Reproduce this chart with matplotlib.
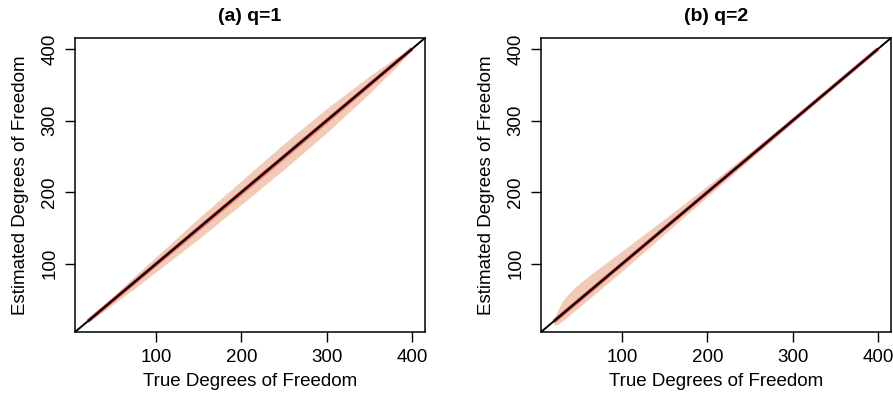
import matplotlib.pyplot as plt
import numpy as np

plt.rcParams['font.family'] = ['Liberation Sans', 'DejaVu Sans']

# true degrees of freedom grid
df_true = [20, 25, 30, 40, 50, 75, 100, 150, 200, 250, 300, 350, 380, 400]

# q=1 : band offsets (estimated - true)
q1_outer_lo = [-1, -2, -3, -5, -6, -9, -11, -15, -17, -18, -17, -12, -7, -1]
q1_outer_hi = [1, 2, 3, 4, 5, 8, 10, 14, 16, 18, 17, 12, 7, 1]
q1_inner_lo = [-2, -2, -2, -2, -2, -3, -3, -4, -4, -4, -4, -3, -2, -1]
q1_inner_hi = [2, 2, 2, 2, 2, 3, 3, 3, 4, 4, 3, 3, 2, 1]
q1_mean = [0, 0, 0, 0, 0, 0, 0, 0, 0, 0, 0, 0, 0, 0]

# q=2 : band offsets (estimated - true)
q2_outer_lo = [-6, -9, -10, -10, -10, -10, -10, -8, -6, -4, -3, -2, -1, 0]
q2_outer_hi = [3, 12, 18, 22, 23, 21, 18, 13, 9, 6, 4, 2, 1, 0]
q2_inner_lo = [-3, -3, -3, -3, -3, -3, -2, -2, -2, -2, -1, -1, -1, 0]
q2_inner_hi = [3, 3, 3, 3, 3, 3, 3, 2, 2, 2, 1, 1, 1, 0]
q2_mean = [0, 0, 0, 0, 0, 0, 0, 0, 0, 0, 0, 0, 0, 0]

titles = ["(a) q=1", "(b) q=2"]
ticks = [100, 200, 300, 400]

fig = plt.figure(figsize=(8.93, 3.93), dpi=100)
ax1 = fig.add_axes([75 / 893, 61 / 393, 350 / 893, 294 / 393])
ax2 = fig.add_axes([541 / 893, 61 / 393, 350 / 893, 294 / 393])

x = np.array(df_true)
panels = [
    (ax1, q1_outer_lo, q1_outer_hi, q1_inner_lo, q1_inner_hi, q1_mean),
    (ax2, q2_outer_lo, q2_outer_hi, q2_inner_lo, q2_inner_hi, q2_mean),
]

for i, (ax, olo, ohi, ilo, ihi, mn) in enumerate(panels):
    ax.fill_between(x, x + np.array(olo), x + np.array(ohi),
                    color="#F2CBB6", lw=0)
    ax.fill_between(x, x + np.array(ilo), x + np.array(ihi),
                    color="#E39A85", lw=0)
    ax.plot(x, x + np.array(mn), color="#D0404A", lw=2.6,
            solid_capstyle="butt")
    lo, hi = 20 - 0.04 * 380, 400 + 0.04 * 380
    ax.plot([lo, hi], [lo, hi], color="black", lw=1.4)
    ax.set_xlim(lo, hi)
    ax.set_ylim(lo, hi)
    ax.set_xticks(ticks)
    ax.set_yticks(ticks)
    ax.set_yticklabels([str(t) for t in ticks], rotation=90, va="center")
    ax.tick_params(direction="out", length=7, width=1, labelsize=13.5,
                   pad=5)
    for s in ax.spines.values():
        s.set_linewidth(1.1)
    ax.set_xlabel("True Degrees of Freedom", fontsize=13.5, labelpad=5)
    ax.set_ylabel("Estimated Degrees of Freedom", fontsize=13.5, labelpad=9)
    ax.set_title(titles[i], fontsize=14, fontweight="bold", pad=12)

fig.savefig("out.png", dpi=100)
